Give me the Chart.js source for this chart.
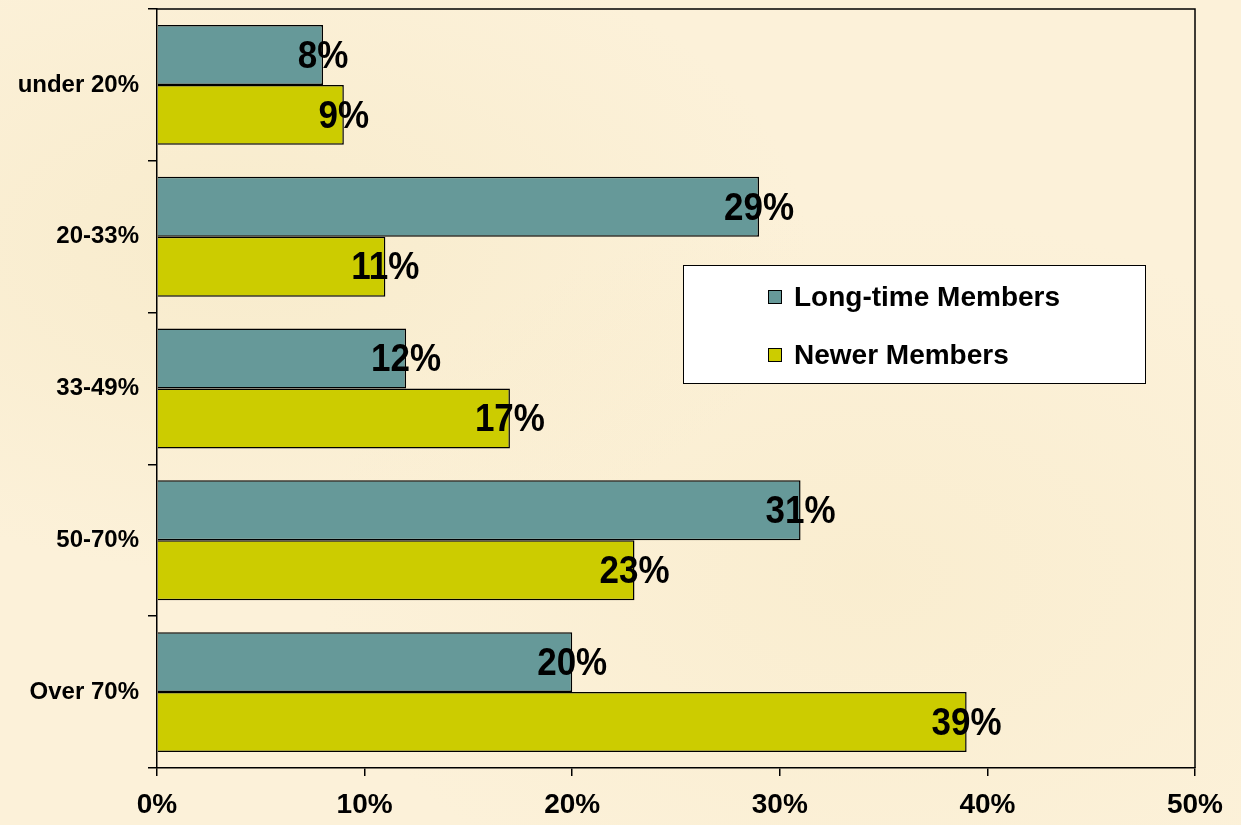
<!DOCTYPE html>
<html><head><meta charset="utf-8">
<script src="https://cdn.jsdelivr.net/npm/chart.js@4.4.1/dist/chart.umd.min.js"></script>
<style>
html,body{margin:0;padding:0;background:#fbf0d6;}
#wrap{width:1241px;height:825px;position:relative;
background:
 radial-gradient(ellipse at 20% 30%, rgba(240,225,180,0.35), rgba(0,0,0,0) 40%),
 radial-gradient(ellipse at 70% 70%, rgba(245,230,190,0.35), rgba(0,0,0,0) 45%),
 #fcf1d9;}
</style></head>
<body><div id="wrap"><canvas id="c" width="1241" height="825"></canvas></div>
<script>
const categories = ['under 20%', '20-33%', '33-49%', '50-70%', 'Over 70%'];
const longTime = [8, 29, 12, 31, 20];
const newer = [9, 11, 17, 23, 39];
const seriesNames = ['Long-time Members', 'Newer Members'];
const xTicks = [0, 10, 20, 30, 40, 50];

const FONT = '"Liberation Sans", Arial, sans-serif';

const labelsPlugin = {
  id: 'valueLabels',
  afterDatasetsDraw(chart) {
    const ctx = chart.ctx;
    chart.data.datasets.forEach((ds, i) => {
      chart.getDatasetMeta(i).data.forEach((bar, j) => {
        ctx.save();
        ctx.font = 'bold 35px ' + FONT;
        ctx.fillStyle = '#000';
        ctx.textAlign = 'center';
        ctx.textBaseline = 'middle';
        ctx.translate(bar.x, bar.y + 2);
        ctx.scale(1, 1.12);
        ctx.fillText(ds.data[j] + '%', 0, 0);
        ctx.restore();
      });
    });
  }
};

const framePlugin = {
  id: 'frame',
  afterDraw(chart) {
    const {ctx, chartArea: a} = chart;
    ctx.save();
    ctx.strokeStyle = '#000';
    ctx.lineWidth = 1.5;
    ctx.beginPath();
    ctx.moveTo(a.left, a.top);
    ctx.lineTo(a.right, a.top);
    ctx.lineTo(a.right, a.bottom);
    ctx.stroke();
    // legend box
    const bx = 683, by = 265, bw = 462, bh = 118;
    ctx.fillStyle = '#fff';
    ctx.fillRect(bx, by, bw, bh);
    ctx.lineWidth = 1;
    ctx.strokeRect(bx + 0.5, by + 0.5, bw, bh);
    ctx.font = 'bold 28px ' + FONT;
    ctx.textBaseline = 'middle';
    ctx.textAlign = 'left';
    const ys = [297, 355];
    chart.data.datasets.forEach((ds, i) => {
      ctx.fillStyle = ds.backgroundColor;
      ctx.fillRect(768, ys[i] - 7, 14, 14);
      ctx.strokeStyle = '#000';
      ctx.strokeRect(768.5, ys[i] - 6.5, 13, 13);
      ctx.fillStyle = '#000';
      ctx.fillText(ds.label, 794, ys[i] + 1);
    });
    ctx.restore();
  }
};

new Chart(document.getElementById('c'), {
  type: 'bar',
  data: {
    labels: categories,
    datasets: [
      {label: seriesNames[0], data: longTime, backgroundColor: '#669999', borderColor: '#000', borderWidth: 1.5, borderSkipped: 'start'},
      {label: seriesNames[1], data: newer, backgroundColor: '#cccc00', borderColor: '#000', borderWidth: 1.5, borderSkipped: 'start'}
    ]
  },
  options: {
    indexAxis: 'y',
    responsive: false,
    animation: false,
    layout: {padding: {left: 0, right: 46, top: 9, bottom: 0}},
    datasets: {bar: {categoryPercentage: 0.79, barPercentage: 1.0}},
    plugins: {legend: {display: false}, tooltip: {enabled: false}},
    scales: {
      x: {
        min: 0, max: 50,
        afterBuildTicks(s) { s.ticks = xTicks.map(v => ({value: v})); },
        afterFit(s) { s.height = 57; s.paddingLeft = 0; s.paddingRight = 0; },
        grid: {drawOnChartArea: false, tickLength: 8, color: '#000', lineWidth: 1.5},
        border: {color: '#000', width: 1.5},
        ticks: {color: '#000', font: {family: FONT, size: 28, weight: 'bold'}, padding: 12, callback: v => v + '%', maxRotation: 0}
      },
      y: {
        afterFit(s) { s.width = 157; s.paddingTop = 0; s.paddingBottom = 0; },
        grid: {drawOnChartArea: false, tickLength: 9, color: '#000', lineWidth: 1.5, offset: true},
        border: {color: '#000', width: 1.5},
        ticks: {color: '#000', font: {family: FONT, size: 24, weight: 'bold'}, padding: 9}
      }
    }
  },
  plugins: [labelsPlugin, framePlugin]
});
</script></body></html>
